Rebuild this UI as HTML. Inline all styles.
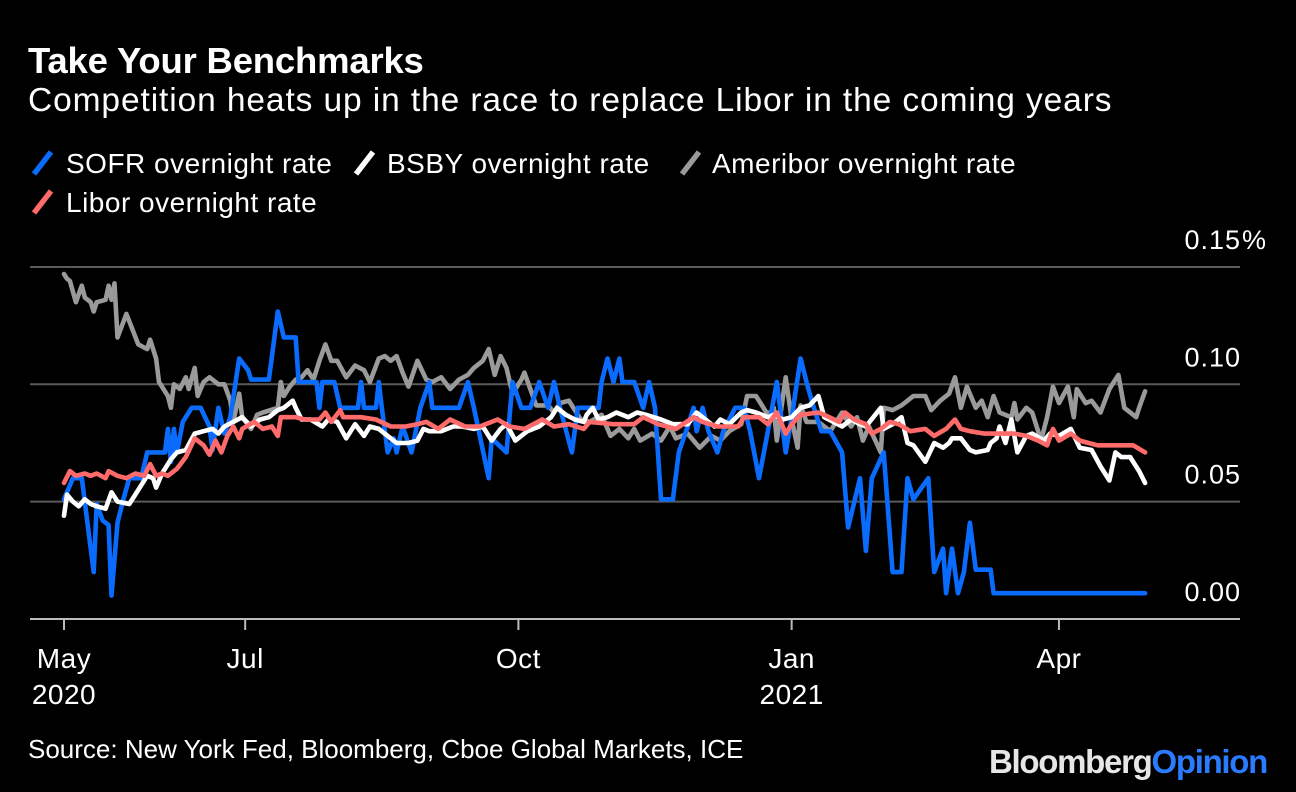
<!DOCTYPE html>
<html><head><meta charset="utf-8">
<style>
html,body{margin:0;padding:0;background:#000;}
body{width:1296px;height:792px;overflow:hidden;position:relative;font-family:"Liberation Sans",sans-serif;color:#fff;}
.t{position:absolute;white-space:nowrap;}
</style></head>
<body>
<div class="t" style="left:28px;top:40px;font-size:36.5px;font-weight:bold;letter-spacing:-0.2px;">Take Your Benchmarks</div>
<div class="t" style="left:28px;top:82px;font-size:33.5px;letter-spacing:0.9px;">Competition heats up in the race to replace Libor in the coming years</div>
<svg id="chart" width="1296" height="792" style="position:absolute;left:0;top:0;" xmlns="http://www.w3.org/2000/svg"></svg>
<div class="t" style="left:28px;top:734px;font-size:26px;">Source: New York Fed, Bloomberg, Cboe Global Markets, ICE</div>
<div class="t" style="left:989px;top:743px;font-size:33px;font-weight:bold;letter-spacing:-1.3px;color:#e6e6e6;">Bloomberg<span style="color:#2a7bff">Opinion</span></div>
<script>
// Days since 2020-05-01
const sofrDays=[0,3,6,10,11,13,15,16,18,20,22,26,28,30,34,35,36,37,38,40,43,46,49,50,52,54,56,59,62,63,69,72,74,78,79,85,86,87,91,93,99,100,101,105,106,107,109,111,112,114,117,120,123,124,133,136,138,143,144,149,151,154,157,160,163,165,167,171,173,180,181,183,185,187,188,192,195,197,199,201,205,207,210,212,213,215,217,220,222,226,229,231,234,237,240,243,245,248,250,252,255,258,262,264,268,270,272,276,279,282,284,286,291,293,296,297,299,301,303,305,307,312,313,364];
const sofrVals=[.051,.060,.060,.020,.049,.042,.040,.010,.041,.051,.060,.060,.071,.071,.071,.081,.067,.081,.071,.084,.090,.090,.082,.072,.090,.079,.086,.111,.106,.102,.102,.131,.120,.120,.101,.101,.090,.101,.101,.090,.090,.101,.090,.090,.101,.090,.071,.077,.071,.082,.071,.090,.101,.090,.090,.101,.090,.060,.077,.071,.101,.090,.090,.101,.090,.101,.090,.071,.090,.090,.101,.111,.101,.111,.101,.101,.090,.101,.090,.051,.051,.071,.082,.090,.080,.090,.080,.071,.080,.090,.090,.080,.060,.080,.101,.071,.086,.111,.101,.092,.080,.080,.071,.039,.060,.029,.060,.071,.020,.020,.060,.051,.060,.020,.030,.011,.030,.011,.020,.041,.021,.021,.011,.011];
const bsbyDays=[0,1,3,5,7,9,11,14,16,18,22,25,27,28,30,31,33,36,38,41,44,47,50,52,54,57,60,63,66,69,72,74,77,78,80,83,87,89,92,95,98,101,103,106,110,112,116,119,121,123,127,131,134,138,141,144,147,149,152,156,160,164,166,169,172,175,176,178,180,183,186,190,193,196,201,205,210,213,216,219,221,224,228,230,233,237,239,242,245,248,251,254,256,259,262,265,268,270,275,276,279,282,284,286,290,293,296,298,299,302,305,307,311,312,314,315,317,319,321,324,326,330,332,335,339,342,346,349,352,354,356,359,362,364];
const bsbyVals=[.044,.053,.050,.048,.051,.049,.048,.047,.054,.050,.049,.055,.059,.061,.060,.056,.062,.068,.071,.072,.079,.080,.081,.079,.082,.084,.086,.082,.085,.086,.089,.090,.093,.090,.085,.085,.082,.085,.084,.077,.083,.078,.082,.081,.077,.075,.075,.076,.081,.080,.080,.082,.082,.081,.082,.076,.081,.083,.076,.080,.082,.086,.090,.087,.085,.084,.087,.090,.085,.086,.088,.086,.088,.087,.085,.083,.083,.088,.085,.082,.085,.083,.088,.089,.088,.086,.087,.085,.086,.090,.091,.095,.086,.084,.082,.085,.083,.082,.090,.081,.083,.086,.075,.074,.067,.075,.073,.075,.077,.077,.072,.071,.072,.075,.077,.082,.075,.085,.071,.078,.079,.076,.079,.078,.081,.073,.072,.065,.059,.071,.069,.069,.063,.058];
const ameriborDays=[0,1,2,4,6,7,9,10,11,14,15,16,17,18,21,25,28,29,31,32,35,36,37,39,41,42,44,45,47,49,52,54,56,57,59,60,63,65,67,72,73,74,76,78,80,82,84,86,88,90,92,95,98,101,103,106,108,110,112,114,116,119,122,124,127,130,133,136,138,141,143,145,147,149,151,154,155,159,163,165,167,170,174,177,181,184,187,190,192,194,198,201,204,206,210,214,218,221,224,228,230,233,237,239,240,243,245,247,248,250,254,258,262,265,267,269,271,275,276,279,282,286,290,292,295,298,300,302,304,307,309,311,313,315,319,320,321,324,326,329,331,333,335,338,340,341,344,346,349,352,355,357,361,362,364];
const ameriborVals=[.147,.145,.144,.135,.142,.137,.135,.131,.135,.136,.142,.136,.143,.120,.130,.117,.115,.119,.111,.101,.095,.090,.100,.098,.103,.098,.107,.095,.101,.103,.100,.100,.093,.084,.096,.086,.081,.087,.088,.090,.101,.095,.099,.102,.103,.106,.102,.110,.117,.110,.110,.103,.108,.106,.101,.111,.112,.110,.112,.105,.099,.110,.102,.101,.103,.098,.102,.104,.107,.110,.115,.104,.112,.107,.096,.102,.105,.091,.091,.088,.092,.093,.085,.084,.087,.078,.081,.077,.081,.076,.079,.076,.082,.077,.079,.073,.078,.076,.080,.083,.095,.095,.087,.090,.076,.103,.085,.073,.091,.084,.084,.080,.088,.082,.086,.076,.082,.071,.090,.089,.091,.095,.095,.089,.093,.096,.103,.090,.099,.090,.093,.086,.095,.088,.086,.092,.085,.090,.088,.076,.086,.099,.092,.099,.086,.098,.092,.093,.088,.098,.104,.090,.086,.090,.097];
const liborDays=[0,2,4,7,9,11,14,15,18,21,24,27,29,31,33,35,38,41,44,47,49,51,53,55,57,59,60,64,67,70,72,73,78,81,86,88,90,93,94,100,105,110,115,119,122,126,130,135,140,146,150,155,161,165,170,175,177,185,192,195,200,206,212,215,220,227,229,234,237,240,243,245,248,254,256,261,263,266,270,272,275,278,281,285,290,293,297,300,302,305,310,314,320,324,328,331,333,335,339,342,348,355,360,364];
const liborVals=[.058,.063,.061,.062,.061,.062,.060,.063,.061,.060,.062,.061,.066,.061,.062,.061,.064,.069,.077,.074,.070,.076,.071,.078,.082,.077,.081,.084,.081,.082,.078,.086,.086,.085,.085,.088,.084,.089,.086,.086,.085,.082,.082,.083,.084,.081,.085,.082,.082,.085,.082,.081,.085,.082,.083,.081,.084,.083,.083,.086,.083,.081,.086,.084,.082,.082,.086,.086,.083,.088,.079,.083,.087,.088,.087,.084,.088,.085,.083,.079,.081,.084,.083,.080,.081,.078,.081,.085,.081,.080,.079,.079,.079,.078,.076,.074,.081,.076,.079,.076,.074,.074,.074,.071];
const yTicks=[0,0.05,0.10,0.15];
const yTickLabels=["0.00","0.05","0.10","0.15"];
const xTickDays=[0,61,153,245,335];
const xTickLabels=["May","Jul","Oct","Jan","Apr"];
const xTickYears=["2020","","","2021",""];

const NS="http://www.w3.org/2000/svg";
const svg=document.getElementById('chart');
const X0=64,PXD=2.97,Y0=619,PXV=2347;
function xs(d){return X0+d*PXD;}
function ys(v){return Y0-v*PXV;}
function mk(tag,attrs){const e=document.createElementNS(NS,tag);for(const k in attrs)e.setAttribute(k,attrs[k]);svg.appendChild(e);return e;}
const FF='Liberation Sans, sans-serif';

yTicks.forEach((v,i)=>{
  const l=mk('line',{x1:30,x2:1240,y1:ys(v),y2:ys(v),stroke:v===0?'#bbbbbb':'#5a5a5a','stroke-width':2});
  
  
  const t=mk('text',{x:1241,y:ys(v)-18,'text-anchor':'end','font-size':27,fill:'#fff','font-family':FF,'letter-spacing':'1'});
  t.textContent=yTickLabels[i];
  
  
  if(i===yTicks.length-1){
    const p=mk('text',{x:1242,y:ys(v)-18,'font-size':27,fill:'#fff','font-family':FF});
    p.textContent='%';
    
    
  }
});
xTickDays.forEach((d,i)=>{
  const tk=mk('line',{x1:xs(d),x2:xs(d),y1:Y0,y2:Y0+11,stroke:'#bbbbbb','stroke-width':2});
  
  
  const t=mk('text',{x:xs(d),y:668,'text-anchor':'middle','font-size':28,fill:'#fff','font-family':FF,'letter-spacing':'0.5'});
  t.textContent=xTickLabels[i];
  
  
  if(xTickYears[i]){
    const y=mk('text',{x:xs(d),y:704,'text-anchor':'middle','font-size':28,fill:'#fff','font-family':FF,'letter-spacing':'0.5'});
    y.textContent=xTickYears[i];
    
    
  }
});
function series(days,vals,color,name){
  const p=days.map((d,i)=>(i?'L':'M')+xs(d).toFixed(1)+','+ys(vals[i]).toFixed(1)).join('');
  const e=mk('path',{d:p,fill:'none',stroke:color,'stroke-width':4.6,'stroke-linejoin':'round','stroke-linecap':'round'});
  
  
}
series(ameriborDays,ameriborVals,'#9a9a9a','ameribor-line');
series(sofrDays,sofrVals,'#0a6cff','sofr-line');
series(bsbyDays,bsbyVals,'#ffffff','bsby-line');
series(liborDays,liborVals,'#ff6b6b','libor-line');

const legend=[["SOFR overnight rate",'#0a6cff',32,66,163],["BSBY overnight rate",'#ffffff',354,387,163],["Ameribor overnight rate",'#9a9a9a',680,712,163],["Libor overnight rate",'#ff6b6b',32,66,202]];
legend.forEach(L=>{
  const ic=mk('line',{x1:L[2]+2,y1:L[4]+11,x2:L[2]+19,y2:L[4]-11,stroke:L[1],'stroke-width':5.5});
  
  
  const t=mk('text',{x:L[3],y:L[4]+10,'font-size':28,fill:'#fff','font-family':FF,'letter-spacing':'0.5'});
  t.textContent=L[0];
  
  
});
</script>
</body></html>
